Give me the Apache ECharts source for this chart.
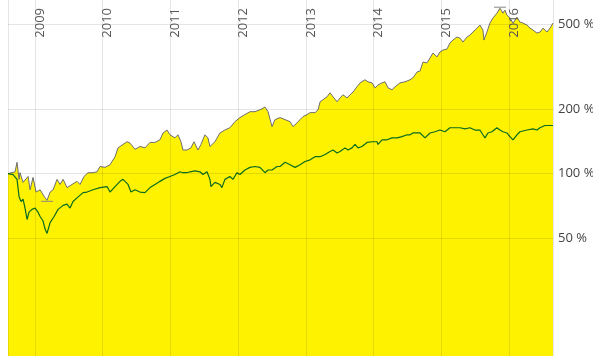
<!DOCTYPE html>
<html>
<head>
<meta charset="utf-8">
<script src="https://cdn.jsdelivr.net/npm/echarts@6/dist/echarts.min.js"></script>
<style>
html,body{margin:0;padding:0;background:#fff;}
#chart{width:593px;height:356px;}
</style>
</head>
<body>
<div id="chart"></div>
<script>
// Fund (grey line, yellow area) — decimal years and percent values
const grayYears = [2008.601,2008.705,2008.734,2008.764,2008.778,2008.823,2008.897,2008.926,2008.970,2009.015,2009.074,2009.148,2009.177,2009.222,2009.266,2009.325,2009.369,2009.414,2009.473,2009.547,2009.620,2009.665,2009.724,2009.783,2009.857,2009.916,2009.960,2010.034,2010.108,2010.182,2010.226,2010.300,2010.359,2010.403,2010.477,2010.551,2010.625,2010.699,2010.773,2010.846,2010.891,2010.950,2010.994,2011.068,2011.112,2011.157,2011.186,2011.245,2011.304,2011.349,2011.378,2011.408,2011.452,2011.511,2011.555,2011.585,2011.614,2011.659,2011.733,2011.806,2011.880,2011.954,2012.028,2012.102,2012.176,2012.250,2012.323,2012.397,2012.442,2012.501,2012.545,2012.619,2012.693,2012.767,2012.811,2012.870,2012.914,2012.959,2013.018,2013.062,2013.136,2013.180,2013.210,2013.254,2013.313,2013.357,2013.402,2013.461,2013.505,2013.549,2013.609,2013.653,2013.697,2013.756,2013.801,2013.874,2013.919,2013.978,2014.022,2014.066,2014.126,2014.170,2014.214,2014.273,2014.318,2014.391,2014.465,2014.539,2014.583,2014.643,2014.687,2014.731,2014.790,2014.835,2014.879,2014.938,2014.982,2015.027,2015.086,2015.130,2015.174,2015.233,2015.278,2015.322,2015.381,2015.425,2015.470,2015.529,2015.573,2015.617,2015.632,2015.676,2015.721,2015.765,2015.824,2015.869,2015.913,2015.942,2015.972,2016.016,2016.061,2016.120,2016.164,2016.208,2016.267,2016.312,2016.356,2016.415,2016.459,2016.504,2016.563,2016.607,2016.651];
const grayValues = [100,102,113,94,101,91,97,84,96,82,84,77,75,82,84,94,89,94,86,89,92,89,97,101,101,102,108,107,110,120,132,137,141,139,130,134,132,140,140,144,155,160,152,147,152,141,129,129,132,141,140,129,137,152,147,134,132,141,155,160,164,175,183,189,195,195,199,205,195,166,179,183,179,175,166,173,179,185,189,193,193,199,217,222,229,239,229,217,226,234,226,234,241,255,266,275,269,266,252,260,266,269,252,247,255,266,269,275,281,299,302,333,330,348,367,352,371,379,383,409,422,436,431,413,436,445,460,480,496,470,422,460,507,535,564,595,564,583,552,535,507,540,512,507,496,480,470,455,460,480,460,480,507];

// Benchmark (green line)
const greenYears = [2008.601,2008.675,2008.734,2008.764,2008.793,2008.823,2008.852,2008.882,2008.911,2008.956,2009.000,2009.044,2009.074,2009.118,2009.148,2009.177,2009.222,2009.281,2009.340,2009.414,2009.473,2009.517,2009.561,2009.620,2009.709,2009.768,2009.857,2009.960,2010.064,2010.108,2010.182,2010.256,2010.300,2010.374,2010.418,2010.477,2010.551,2010.625,2010.699,2010.773,2010.846,2010.920,2010.994,2011.068,2011.142,2011.186,2011.245,2011.290,2011.363,2011.437,2011.482,2011.541,2011.585,2011.600,2011.659,2011.733,2011.762,2011.806,2011.880,2011.925,2011.984,2012.028,2012.102,2012.176,2012.250,2012.323,2012.397,2012.442,2012.501,2012.575,2012.619,2012.693,2012.767,2012.841,2012.914,2012.988,2013.062,2013.136,2013.210,2013.284,2013.357,2013.402,2013.461,2013.505,2013.579,2013.623,2013.682,2013.727,2013.771,2013.830,2013.904,2013.978,2014.052,2014.066,2014.126,2014.199,2014.273,2014.347,2014.421,2014.495,2014.539,2014.583,2014.687,2014.761,2014.835,2014.908,2014.982,2015.056,2015.130,2015.204,2015.278,2015.352,2015.425,2015.499,2015.573,2015.617,2015.647,2015.691,2015.750,2015.824,2015.869,2015.913,2015.972,2016.016,2016.061,2016.120,2016.164,2016.267,2016.356,2016.415,2016.459,2016.533,2016.607,2016.651];
const greenValues = [100,99,94,78,74,76,69,61,66,68,69,66,63,60,55,52.5,59,63,68,71,72,69,74,77,81.5,82,84,86,87,82,87,92,94,89,82,84,82,81.5,86,89,92,95,97,99,102,101,101,102,103,102,99,102,94,87,91,89,86,94,97,94,101,99,104,107,108,107,101,104,104,108,108,113,110,107,110,114,116,120,120,123,127,129,125,127,132,129,132,137,132,134,140,141,141,137,144,144,147,147,149,152,152,155,155,147,155,157,160,157,164,164,164,162,164,160,160,152,147,155,157,164,160,157,155,149,144,152,157,160,162,160,164,168,168,168];

const yTickValues = [50, 100, 200, 500];
const xStart = 2008.601, xEnd = 2016.651;

function yearToTime(y) {
  const yr = Math.floor(y);
  const a = Date.UTC(yr, 0, 1), b = Date.UTC(yr + 1, 0, 1);
  return a + (y - yr) * (b - a);
}
function pairs(xs, vs) { return xs.map((x, i) => [yearToTime(x), vs[i]]); }

const chart = echarts.init(document.getElementById('chart'), null, {renderer: 'canvas'});
chart.setOption({
  animation: false,
  backgroundColor: '#ffffff',
  grid: {left: 8, right: 40, top: 0, bottom: 0, containLabel: false, outerBoundsMode: 'none'},
  xAxis: {
    type: 'time',
    position: 'top',
    min: yearToTime(xStart),
    max: yearToTime(xEnd),
    minInterval: 365 * 24 * 3600 * 1000,
    splitNumber: 8,
    z: 10,
    axisLine: {show: false},
    axisTick: {show: false},
    axisLabel: {
      inside: true,
      rotate: -90,
      margin: 8,
      align: 'right',
      verticalAlign: 'top',
      lineHeight: 10,
      fontFamily: 'Open Sans',
      fontSize: 13,
      color: '#555',
      formatter: '{yyyy}',
      showMinLabel: false,
      showMaxLabel: false
    },
    splitLine: {show: true, lineStyle: {color: 'rgba(0,0,0,0.1)', width: 1}}
  },
  yAxis: {
    type: 'log',
    position: 'right',
    min: 14,
    max: 650,
    z: 10,
    axisLine: {show: false},
    axisTick: {show: false, customValues: yTickValues},
    axisLabel: {
      customValues: yTickValues,
      margin: 5,
      fontFamily: 'Open Sans',
      fontSize: 13,
      color: '#444',
      formatter: v => v + ' %'
    },
    splitLine: {show: true, lineStyle: {color: 'rgba(0,0,0,0.1)', width: 1}}
  },
  series: [
    {
      name: 'Fonds',
      type: 'line',
      data: pairs(grayYears, grayValues),
      showSymbol: false,
      symbol: 'none',
      lineStyle: {color: '#6e6e6e', width: 1},
      areaStyle: {color: '#fff200', opacity: 1, origin: 'start'},
      z: 2,
      markPoint: {
        symbol: 'rect',
        symbolSize: [12, 1],
        itemStyle: {color: '#888'},
        label: {show: false},
        data: [{type: 'max', symbolOffset: [0, -1]}, {type: 'min', symbolOffset: [0, 1]}]
      }
    },
    {
      name: 'Benchmark',
      type: 'line',
      data: pairs(greenYears, greenValues),
      showSymbol: false,
      symbol: 'none',
      lineStyle: {color: '#0b6b1f', width: 1.2},
      z: 3
    }
  ]
});
</script>
</body>
</html>
